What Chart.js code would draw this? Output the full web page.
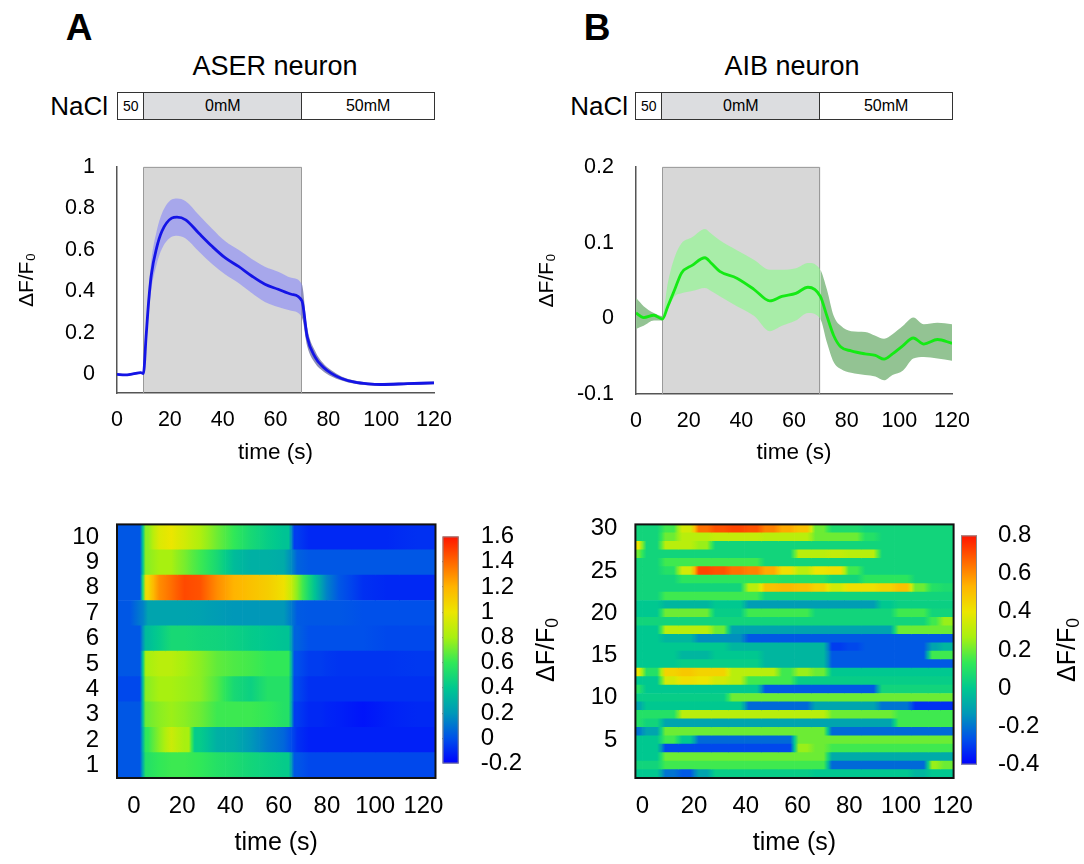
<!DOCTYPE html>
<html><head><meta charset="utf-8">
<script src="https://cdn.jsdelivr.net/npm/chart.js@4.4.0/dist/chart.umd.min.js"></script>
<style>
body{margin:0;width:1084px;height:864px;background:#fff;position:relative;overflow:hidden;font-family:"Liberation Sans",Arial,Helvetica,sans-serif;color:#000}
canvas{position:absolute}
.lbl{position:absolute;line-height:1;white-space:nowrap}
.stim{position:absolute;height:28px;display:flex;border:1.5px solid #333;box-sizing:border-box;background:#fff}
.stim div{display:flex;align-items:center;justify-content:center;font-size:16px;border-right:1.5px solid #333;box-sizing:border-box;height:100%}
.stim div:last-child{border-right:none}
.rot{position:absolute;width:120px;height:30px;text-align:center;transform:rotate(-90deg);white-space:nowrap;line-height:30px;font-size:25px}
.rot sub{font-size:70%;vertical-align:-0.25em}
</style></head><body>
<div class="lbl" style="left:49px;width:60px;text-align:center;top:9px;font-size:37px;font-weight:bold">A</div>
<div class="lbl" style="left:567px;width:60px;text-align:center;top:9px;font-size:37px;font-weight:bold">B</div>
<div class="lbl" style="left:155px;width:240px;text-align:center;top:53px;font-size:27px">ASER neuron</div>
<div class="lbl" style="left:672px;width:240px;text-align:center;top:53px;font-size:27px">AIB neuron</div>
<div class="lbl" style="left:0px;width:108px;text-align:right;top:93px;font-size:26px">NaCl</div>
<div class="lbl" style="left:520px;width:108px;text-align:right;top:93px;font-size:26px">NaCl</div>
<div id="stimA" class="stim" style="left:117px;top:92px;width:318px"></div>
<div id="stimB" class="stim" style="left:635px;top:92px;width:318px"></div>

<canvas id="lineA" width="540" height="340" style="left:0;top:140px"></canvas>
<canvas id="lineB" width="564" height="340" style="left:520px;top:140px"></canvas>
<canvas id="heatA" width="470" height="364" style="left:0;top:500px"></canvas>
<canvas id="heatB" width="470" height="364" style="left:520px;top:500px"></canvas>
<canvas id="cbA" width="110" height="300" style="left:436px;top:500px"></canvas>
<canvas id="cbB" width="129" height="300" style="left:955px;top:500px"></canvas>
<div class="rot" style="left:485px;top:635px">ΔF/F<sub>0</sub></div>
<div class="rot" style="left:1006px;top:635px">ΔF/F<sub>0</sub></div>

<script>
// ---------- data ----------
const stim = [10, 70];                       // 0 mM NaCl period (s)
const stimLabels = ['50', '0mM', '50mM'];
const xTicks = [0, 20, 40, 60, 80, 100, 120];

// ASER mean trace and band
const tA = [0, 3, 6, 9, 10, 11, 12, 13, 15, 17, 20.7, 22.7, 26, 31, 36, 41, 46, 51, 56, 61, 66, 70, 72, 75, 78, 81, 85, 90, 95, 100, 110, 120];
const meanA = [0.0, -0.003, 0.002, 0.008, 0.004, 0.18, 0.354, 0.48, 0.61, 0.69, 0.753, 0.758, 0.745, 0.68, 0.617, 0.561, 0.52, 0.474, 0.434, 0.41, 0.386, 0.354, 0.18, 0.083, 0.035, 0.006, -0.02, -0.038, -0.046, -0.049, -0.045, -0.041];
const upperA = [0.005, 0.002, 0.007, 0.013, 0.009, 0.22, 0.414, 0.55, 0.69, 0.775, 0.843, 0.848, 0.835, 0.768, 0.702, 0.641, 0.6, 0.556, 0.519, 0.495, 0.466, 0.434, 0.225, 0.113, 0.055, 0.021, -0.01, -0.03, -0.039, -0.042, -0.038, -0.034];
const lowerA = [-0.005, -0.008, -0.003, 0.003, -0.001, 0.14, 0.294, 0.41, 0.53, 0.605, 0.663, 0.668, 0.655, 0.592, 0.532, 0.481, 0.44, 0.392, 0.349, 0.325, 0.306, 0.274, 0.135, 0.053, 0.015, -0.009, -0.03, -0.046, -0.053, -0.056, -0.052, -0.048];
const yTicksA = [0, 0.2, 0.4, 0.6, 0.8, 1];

// AIB mean trace and band
const tB = [0, 2.9, 6.8, 10, 12.1, 14.7, 17.3, 21.3, 26.2, 28.5, 31.8, 38.3, 44.9, 50.8, 55.4, 60.7, 65.3, 70, 72.5, 75.1, 77.8, 81.7, 87, 90.9, 94.2, 97.4, 101.4, 105.3, 109.3, 114.5, 120];
const meanB = [0.007, 0.001, 0.004, -0.001, 0.016, 0.038, 0.06, 0.07, 0.08, 0.073, 0.062, 0.053, 0.038, 0.023, 0.029, 0.033, 0.041, 0.029, 0.003, -0.023, -0.038, -0.043, -0.047, -0.049, -0.054, -0.047, -0.036, -0.026, -0.034, -0.028, -0.033];
const upperB = [0.027, 0.016, 0.007, 0.003, 0.047, 0.081, 0.099, 0.107, 0.118, 0.112, 0.103, 0.09, 0.077, 0.064, 0.064, 0.066, 0.073, 0.064, 0.038, 0.003, -0.01, -0.017, -0.018, -0.023, -0.027, -0.021, -0.01, 0.001, -0.008, -0.006, -0.008];
const lowerB = [-0.014, -0.01, -0.003, -0.003, 0.012, 0.029, 0.033, 0.036, 0.04, 0.036, 0.029, 0.016, 0.003, -0.017, -0.01, -0.003, 0.007, -0.001, -0.032, -0.058, -0.067, -0.072, -0.075, -0.077, -0.082, -0.075, -0.069, -0.053, -0.051, -0.053, -0.056];
const yTicksB = [-0.1, 0, 0.1, 0.2];

// ASER heat map: rows 1..10, columns between time edges
const rowsA = ['1','2','3','4','5','6','7','8','9','10'];
const edgesA = [-7, 3.7, 8, 13, 18, 24, 31, 38, 45, 52, 59, 65.3, 70, 75, 80, 90, 100, 110, 125];
const heatA = [
  [0.02, 0.55, 0.6, 0.62, 0.62, 0.6, 0.55, 0.52, 0.48, 0.45, 0.42, 0.02, -0.02, -0.02, -0.02, -0.02, -0.02, -0.02],
  [0.02, 0.6, 0.75, 0.9, 0.8, 0.42, 0.3, 0.28, 0.2, 0.12, 0.06, -0.08, -0.12, -0.12, -0.12, -0.12, -0.12, -0.12],
  [0.02, 0.7, 0.75, 0.78, 0.75, 0.7, 0.62, 0.62, 0.62, 0.6, 0.55, -0.05, -0.1, -0.1, -0.12, -0.15, -0.12, -0.1],
  [-0.02, 0.75, 0.8, 0.8, 0.78, 0.75, 0.65, 0.5, 0.45, 0.55, 0.55, -0.02, -0.08, -0.08, -0.08, -0.08, -0.08, -0.08],
  [0.02, 0.8, 0.85, 0.85, 0.8, 0.75, 0.68, 0.65, 0.63, 0.6, 0.6, 0.0, -0.05, -0.05, -0.07, -0.07, -0.07, -0.06],
  [0.02, 0.35, 0.42, 0.5, 0.5, 0.48, 0.47, 0.45, 0.42, 0.4, 0.38, 0.05, 0.0, 0.0, 0.0, 0.0, -0.02, -0.02],
  [0.02, 0.25, 0.25, 0.25, 0.25, 0.24, 0.22, 0.2, 0.2, 0.2, 0.2, 0.03, 0.02, 0.02, 0.02, 0.0, 0.0, 0.0],
  [0.02, 1.05, 1.3, 1.38, 1.47, 1.45, 1.3, 1.2, 1.15, 1.1, 1.02, 0.75, 0.5, 0.25, 0.02, -0.08, -0.1, -0.1],
  [0.02, 0.75, 0.8, 0.8, 0.72, 0.62, 0.5, 0.35, 0.3, 0.3, 0.28, 0.05, 0.02, 0.02, 0.02, 0.02, 0.02, 0.02],
  [0.02, 0.75, 0.95, 1.0, 0.92, 0.82, 0.7, 0.6, 0.5, 0.43, 0.38, -0.05, -0.1, -0.1, -0.1, -0.1, -0.1, -0.08]
];
const xTicksHeat = [0, 20, 40, 60, 80, 100, 120];
const cbTicksA = [-0.2, 0, 0.2, 0.4, 0.6, 0.8, 1, 1.2, 1.4, 1.6];

// AIB heat map: rows 1..30
const rowsB = Array.from({length: 30}, (_, i) => String(i + 1));
const edgesB = [-2.7, 0, 7.3, 13.8, 20.2, 26.6, 33.1, 39.5, 45.9, 52.4, 58.8, 65.3, 71.7, 78.2, 84.6, 91, 97.5, 103.9, 110.4, 115, 120.3];
const heatB = [
  [0.0, 0.0, -0.2, -0.25, -0.1, 0.02, 0.02, 0.02, 0.02, 0.02, 0.02, 0.0, 0.0, 0.0, 0.0, 0.0, 0.0, -0.05, 0.0, 0.0],
  [0.05, 0.05, 0.15, 0.15, 0.15, 0.15, 0.15, 0.15, 0.15, 0.15, 0.15, 0.15, -0.22, -0.22, -0.22, -0.22, -0.22, -0.22, 0.25, 0.2],
  [0.0, 0.0, 0.2, 0.2, 0.2, 0.2, 0.2, 0.2, 0.2, 0.2, 0.2, 0.2, -0.08, -0.08, -0.08, -0.08, -0.08, -0.08, -0.08, -0.08],
  [0.0, 0.0, -0.28, -0.28, -0.28, -0.28, -0.28, -0.28, -0.28, -0.28, 0.25, 0.2, 0.15, 0.15, 0.15, 0.15, 0.15, 0.15, 0.15, 0.15],
  [0.0, 0.0, 0.15, 0.0, -0.22, -0.22, -0.22, -0.22, -0.22, -0.22, 0.2, 0.2, 0.2, 0.2, 0.2, 0.2, 0.2, 0.2, 0.2, 0.2],
  [-0.2, -0.1, 0.2, 0.2, 0.2, 0.2, 0.2, 0.2, 0.2, 0.2, 0.2, 0.2, -0.22, -0.22, -0.22, -0.22, -0.22, -0.22, -0.22, -0.22],
  [0.1, 0.05, -0.1, -0.1, -0.1, -0.1, -0.1, -0.1, -0.1, -0.1, -0.1, -0.1, -0.1, -0.1, -0.1, -0.1, 0.15, 0.15, 0.15, 0.15],
  [0.1, 0.1, 0.1, 0.3, 0.3, 0.3, 0.3, 0.3, 0.3, 0.3, 0.3, 0.3, 0.2, 0.2, 0.2, 0.2, 0.15, 0.15, 0.15, 0.15],
  [-0.1, 0.0, 0.0, 0.0, 0.0, 0.0, 0.0, -0.22, -0.22, -0.22, -0.22, -0.1, -0.1, -0.1, -0.1, -0.2, -0.2, -0.32, -0.32, -0.32],
  [0.02, 0.02, 0.02, 0.02, 0.02, 0.02, 0.2, 0.2, 0.2, 0.2, 0.2, 0.2, 0.2, 0.2, 0.2, 0.2, 0.2, 0.2, 0.2, 0.2],
  [0.1, 0.0, 0.0, 0.0, 0.0, 0.0, 0.0, 0.0, -0.25, -0.25, -0.25, -0.25, -0.25, -0.25, -0.25, 0.05, 0.05, 0.05, 0.05, 0.05],
  [0.0, 0.0, 0.35, 0.42, 0.4, 0.35, 0.3, 0.15, 0.15, 0.15, 0.02, 0.02, 0.02, 0.02, 0.02, 0.02, 0.02, 0.02, 0.02, 0.02],
  [0.4, 0.1, 0.45, 0.48, 0.45, 0.45, 0.3, 0.3, 0.3, 0.15, 0.25, 0.2, 0.0, 0.0, 0.0, 0.0, 0.0, 0.0, 0.0, 0.0],
  [0.0, 0.0, 0.0, 0.02, 0.02, 0.02, 0.02, 0.02, -0.05, -0.05, -0.05, -0.05, -0.25, -0.25, -0.25, -0.25, -0.25, -0.25, -0.25, -0.25],
  [0.0, 0.0, 0.0, -0.05, -0.05, 0.0, 0.0, 0.0, -0.05, -0.05, -0.05, -0.05, -0.25, -0.25, -0.25, -0.25, -0.25, -0.25, 0.15, 0.15],
  [0.0, 0.0, 0.0, 0.0, 0.0, 0.0, -0.05, -0.05, -0.05, -0.05, -0.05, -0.05, -0.3, -0.28, -0.25, -0.25, -0.25, -0.25, -0.1, -0.05],
  [0.0, 0.0, -0.05, -0.05, -0.15, -0.15, -0.15, -0.25, -0.25, -0.25, -0.25, -0.25, -0.25, -0.25, -0.25, -0.25, -0.25, -0.25, -0.25, -0.25],
  [0.0, 0.0, 0.3, 0.3, 0.3, 0.2, -0.1, -0.1, -0.1, -0.1, -0.1, -0.1, -0.1, -0.1, -0.1, -0.1, 0.2, 0.2, 0.2, 0.2],
  [0.05, 0.05, 0.05, 0.05, 0.05, 0.05, 0.05, 0.05, 0.05, 0.05, 0.05, 0.05, 0.05, 0.05, 0.05, 0.05, 0.05, 0.05, 0.15, 0.25],
  [0.0, 0.0, 0.2, 0.2, 0.2, 0.02, 0.02, 0.15, 0.15, 0.15, 0.15, 0.05, 0.05, 0.05, 0.05, 0.05, 0.15, 0.15, 0.05, 0.05],
  [0.0, 0.0, -0.05, -0.05, -0.05, 0.0, 0.0, -0.12, -0.12, -0.12, -0.12, -0.12, -0.12, -0.12, -0.12, 0.0, 0.03, 0.03, 0.03, 0.03],
  [0.05, 0.05, 0.15, 0.15, 0.15, 0.15, 0.15, 0.15, 0.05, 0.05, 0.05, 0.05, 0.05, 0.05, 0.05, 0.05, 0.05, 0.05, 0.05, 0.05],
  [0.05, 0.05, 0.05, 0.05, 0.05, 0.05, 0.05, 0.3, 0.5, 0.52, 0.5, 0.45, 0.35, 0.42, 0.42, 0.45, 0.5, 0.2, 0.1, 0.08],
  [0.05, 0.05, 0.05, 0.12, 0.12, 0.12, 0.12, 0.12, 0.12, 0.1, 0.1, 0.1, 0.05, 0.05, 0.12, 0.12, 0.12, 0.05, 0.05, 0.05],
  [0.05, 0.05, 0.1, 0.35, 0.72, 0.7, 0.65, 0.62, 0.55, 0.42, 0.3, 0.4, 0.42, 0.15, 0.05, 0.05, 0.05, 0.05, 0.05, 0.05],
  [0.05, 0.05, 0.15, 0.15, 0.15, 0.15, 0.15, 0.15, 0.05, 0.05, 0.05, 0.05, 0.05, 0.05, 0.05, 0.05, 0.05, 0.05, 0.05, 0.05],
  [0.2, 0.05, 0.05, 0.05, 0.05, 0.05, 0.05, 0.05, 0.05, 0.05, 0.3, 0.3, 0.32, 0.3, 0.3, 0.05, 0.05, 0.05, 0.05, 0.05],
  [0.4, 0.05, 0.3, 0.3, 0.25, 0.05, 0.05, 0.05, 0.05, 0.05, 0.05, 0.05, 0.05, 0.05, 0.05, 0.05, 0.05, 0.05, 0.05, 0.05],
  [0.05, 0.05, 0.2, 0.3, 0.3, 0.32, 0.32, 0.32, 0.3, 0.3, 0.3, 0.2, 0.2, 0.2, 0.1, 0.05, 0.05, 0.05, 0.05, 0.05],
  [0.05, 0.05, 0.15, 0.35, 0.65, 0.7, 0.72, 0.7, 0.62, 0.55, 0.5, 0.2, 0.08, 0.08, 0.05, 0.05, 0.05, 0.05, 0.05, 0.05]
];
const cbTicksB = [-0.4, -0.2, 0, 0.2, 0.4, 0.6, 0.8];

// ---------- style ----------
const cmap = [[0,'#0000ff'],[0.111,'#0050ea'],[0.222,'#0098b8'],[0.333,'#00c890'],[0.444,'#30e858'],[0.556,'#a8f010'],[0.667,'#ece600'],[0.778,'#ffb400'],[0.889,'#ff6600'],[1,'#ff1400']];
const FONT = '"Liberation Sans", Arial, Helvetica, sans-serif';
Chart.defaults.font.family = FONT;
Chart.defaults.color = '#000';
Chart.defaults.animation = false;
Chart.defaults.plugins.legend.display = false;
Chart.defaults.plugins.tooltip.enabled = false;

function hex(c){return [parseInt(c.slice(1,3),16),parseInt(c.slice(3,5),16),parseInt(c.slice(5,7),16)];}
function colorFor(u){
  u = Math.max(0, Math.min(1, u));
  for (let i = 1; i < cmap.length; i++) {
    if (u <= cmap[i][0]) {
      const [u0,c0] = cmap[i-1], [u1,c1] = cmap[i];
      const f = (u - u0) / (u1 - u0), a = hex(c0), b = hex(c1);
      return 'rgb(' + a.map((v,k)=>Math.round(v + (b[k]-v)*f)).join(',') + ')';
    }
  }
  return cmap[cmap.length-1][1];
}
const fmt = v => String(Math.round(v * 100) / 100);

// stimulus bars
function stimBar(id){
  const el = document.getElementById(id);
  const parts = [[0, stim[0], '#fff'], [stim[0], stim[1], '#dcdde0'], [stim[1], 120, '#fff']];
  parts.forEach(([a,b,c], i) => {
    const d = document.createElement('div');
    d.style.width = ((b - a) / 120 * 100) + '%';
    d.style.background = c;
    d.style.fontSize = i === 0 ? '14px' : '16px';
    d.textContent = stimLabels[i];
    el.appendChild(d);
  });
}
stimBar('stimA'); stimBar('stimB');

const stimBox = {id:'stimBox', beforeDatasetsDraw(chart){
  const {ctx, chartArea:a, scales:{x}} = chart;
  const x0 = x.getPixelForValue(stim[0]), x1 = x.getPixelForValue(stim[1]);
  ctx.save();
  ctx.fillStyle = '#d7d7d7';
  ctx.fillRect(x0, a.top, x1 - x0, a.bottom - a.top - 1);
  ctx.strokeStyle = '#9a9a9a'; ctx.lineWidth = 1;
  ctx.beginPath();
  ctx.moveTo(Math.round(x0)+0.5, a.bottom); ctx.lineTo(Math.round(x0)+0.5, a.top+0.5);
  ctx.lineTo(Math.round(x1)-0.5, a.top+0.5); ctx.lineTo(Math.round(x1)-0.5, a.bottom);
  ctx.stroke(); ctx.restore();
}};

function lineChart(id, o){
  const pts = arr => o.t.map((t, i) => ({x: t, y: arr[i]}));
  new Chart(document.getElementById(id), {
    type: 'line',
    data: {datasets: [
      {data: pts(o.mean), borderColor: o.color, borderWidth: 2.8, pointRadius: 0, fill: false, order: 0, cubicInterpolationMode: 'monotone'},
      {data: pts(o.upper), borderColor: 'rgba(0,0,0,0)', borderWidth: 0, pointRadius: 0, fill: '+1', backgroundColor: o.bandIn, order: 1, cubicInterpolationMode: 'monotone',
        segment: {backgroundColor: c => (c.p0.parsed.x >= stim[0] && c.p1.parsed.x <= stim[1]) ? o.bandIn : o.bandOut}},
      {data: pts(o.lower), borderColor: 'rgba(0,0,0,0)', borderWidth: 0, pointRadius: 0, fill: false, order: 1, cubicInterpolationMode: 'monotone'}
    ]},
    options: {
      responsive: false,
      layout: {padding: {left: 0, top: 25, right: o.padRight, bottom: 0}},
      scales: {
        x: {type: 'linear', min: 0, max: 120,
          afterBuildTicks: s => { s.ticks = xTicks.map(v => ({value: v})); },
          afterFit: s => { s.height = o.xh; },
          ticks: {font: {size: 21.5}, padding: 6, autoSkip: false, maxRotation: 0, callback: fmt},
          grid: {display: false}, border: {display: true, color: '#555', width: 1.5},
          title: {display: true, text: 'time (s)', font: {size: 22.5}, padding: {top: 0, bottom: 14}}},
        y: {type: 'linear', min: o.ymin, max: o.ymax,
          afterBuildTicks: s => { s.ticks = o.yTicks.map(v => ({value: v})); },
          afterFit: s => { s.width = o.yw; },
          ticks: {font: {size: 21.5}, padding: 14, autoSkip: false, callback: fmt},
          grid: {display: false}, border: {display: true, color: '#555', width: 1.5},
          title: {display: true, text: 'ΔF/F₀', font: {size: 21}, padding: {top: 15, bottom: 0}}}
      }
    },
    plugins: [stimBox]
  });
}

lineChart('lineA', {t: tA, mean: meanA, upper: upperA, lower: lowerA, color: '#1414e6',
  bandIn: 'rgba(120,120,255,0.5)', bandOut: '#8d8fb8', ymin: -0.09, ymax: 1, yTicks: yTicksA,
  padRight: 106, yw: 117, xh: 87});
lineChart('lineB', {t: tB, mean: meanB, upper: upperB, lower: lowerB, color: '#14ea14',
  bandIn: 'rgba(130,255,130,0.55)', bandOut: '#93c393', ymin: -0.1, ymax: 0.2, yTicks: yTicksB,
  padRight: 132, yw: 116, xh: 86});

const frame = {id:'frame', afterDatasetsDraw(chart){
  const {ctx, chartArea:a} = chart;
  ctx.save(); ctx.strokeStyle = '#111'; ctx.lineWidth = 2;
  ctx.strokeRect(a.left, a.top, a.right - a.left, a.bottom - a.top);
  ctx.restore();
}};

function heatmap(id, o){
  const rowsTop = o.rows.slice().reverse();
  const valsTop = o.values.slice().reverse();
  const nCol = o.edges.length - 1;
  const u = v => (v - o.vmin) / (o.vmax - o.vmin);
  // colour blending across column boundaries (rendering style only)
  const cellFill = (c) => {
    const k = c.datasetIndex, r = valsTop[c.dataIndex];
    const sc = c.chart.scales && c.chart.scales.x;
    if (!sc || !c.chart.chartArea) return colorFor(u(r[k]));
    const e0 = o.edges[k], e1 = o.edges[k+1], w = e1 - e0;
    const x0 = sc.getPixelForValue(e0), x1 = sc.getPixelForValue(e1);
    const g = c.chart.ctx.createLinearGradient(x0, 0, x1, 0);
    const v = r[k];
    const blend = (nb) => o.blendSec ? Math.min(o.blendSec / w, 0.5)
                                     : (Math.abs(nb - v) > 0.3 ? Math.min(1.2 / w, 0.5) : 0.5);
    if (k > 0) {
      const b = blend(r[k-1]);
      g.addColorStop(0, colorFor(u((r[k-1] + v) / 2)));
      g.addColorStop(b, colorFor(u(v)));
    } else g.addColorStop(0, colorFor(u(v)));
    if (k < nCol - 1) {
      const b = blend(r[k+1]);
      g.addColorStop(1 - b, colorFor(u(v)));
      g.addColorStop(1, colorFor(u((r[k+1] + v) / 2)));
    } else g.addColorStop(1, colorFor(u(v)));
    return g;
  };
  const datasets = [];
  for (let k = 0; k < nCol; k++) {
    datasets.push({
      data: valsTop.map(() => [o.edges[k], o.edges[k+1]]),
      backgroundColor: cellFill,
      borderWidth: 0, grouped: false, categoryPercentage: 1, barPercentage: 1
    });
  }
  new Chart(document.getElementById(id), {
    type: 'bar',
    data: {labels: rowsTop, datasets},
    options: {
      indexAxis: 'y', responsive: false,
      layout: {padding: {left: 0, top: 17, right: o.padRight, bottom: 0}},
      scales: {
        x: {type: 'linear', min: o.xmin, max: o.xmax,
          afterBuildTicks: s => { s.ticks = xTicksHeat.map(v => ({value: v})); },
          afterFit: s => { s.height = 86; },
          ticks: {font: {size: 24}, padding: 6, autoSkip: false, maxRotation: 0, callback: fmt},
          grid: {display: false}, border: {display: false},
          title: {display: true, text: 'time (s)', font: {size: 25}, padding: {top: 0, bottom: 6}}},
        y: {type: 'category',
          afterFit: s => { s.width = o.yw; },
          ticks: {font: {size: 24}, padding: 10, autoSkip: false,
            callback: function(v){ const l = this.getLabelForValue(v); return (o.every === 1 || (+l) % o.every === 0) ? l : ''; }},
          grid: {display: false}, border: {display: false}}
      }
    },
    plugins: [frame]
  });
}
heatmap('heatA', {rows: rowsA, values: heatA, edges: edgesA, vmin: -0.2, vmax: 1.6, xmin: -7, xmax: 125, yw: 117, padRight: 34.5, every: 1});
heatmap('heatB', {rows: rowsB, values: heatB, edges: edgesB, vmin: -0.4, vmax: 0.8, xmin: -2.7, xmax: 120.3, yw: 115.4, padRight: 36.4, every: 5, blendSec: 1.6});

const cbFrame = {id:'cbFrame', afterDraw(chart){
  const {ctx, chartArea:a} = chart;
  ctx.save(); ctx.strokeStyle = '#888'; ctx.lineWidth = 1;
  ctx.strokeRect(a.left + 0.5, a.top + 0.5, a.right - a.left - 1, a.bottom - a.top - 1);
  ctx.restore();
}};
function colorbar(id, o){
  new Chart(document.getElementById(id), {
    type: 'bar',
    data: {labels: ['cb'], datasets: [{
      data: [[o.vmin, o.vmax]],
      backgroundColor: c => {
        const a = c.chart.chartArea; if (!a) return '#888';
        const g = c.chart.ctx.createLinearGradient(0, a.bottom, 0, a.top);
        cmap.forEach(([uu, col]) => g.addColorStop(uu, col));
        return g;
      },
      borderWidth: 0, categoryPercentage: 1, barPercentage: 1
    }]},
    options: {
      responsive: false,
      layout: {padding: {left: o.left, top: 17, right: 0, bottom: 21}},
      scales: {
        x: {display: false},
        y: {position: 'right', min: o.vmin, max: o.vmax, z: 1,
          afterBuildTicks: s => { s.ticks = o.ticks.map(v => ({value: v})); },
          afterFit: s => { s.width = o.w; },
          ticks: {font: {size: 24}, padding: o.pad, autoSkip: false, callback: fmt},
          grid: {drawTicks: false, lineWidth: 1.2,
            color: c => (c.tick && (c.tick.value === o.vmin || c.tick.value === o.vmax)) ? 'rgba(0,0,0,0)' : '#111'},
          border: {display: false, dash: [5, 5]}}
      }
    },
    plugins: [cbFrame]
  });
}
colorbar('cbA', {vmin: -0.2, vmax: 1.6, ticks: cbTicksA, left: 6.5, w: 87.3, pad: 22});
colorbar('cbB', {vmin: -0.4, vmax: 0.8, ticks: cbTicksB, left: 6, w: 107, pad: 21});
</script>
</body></html>
